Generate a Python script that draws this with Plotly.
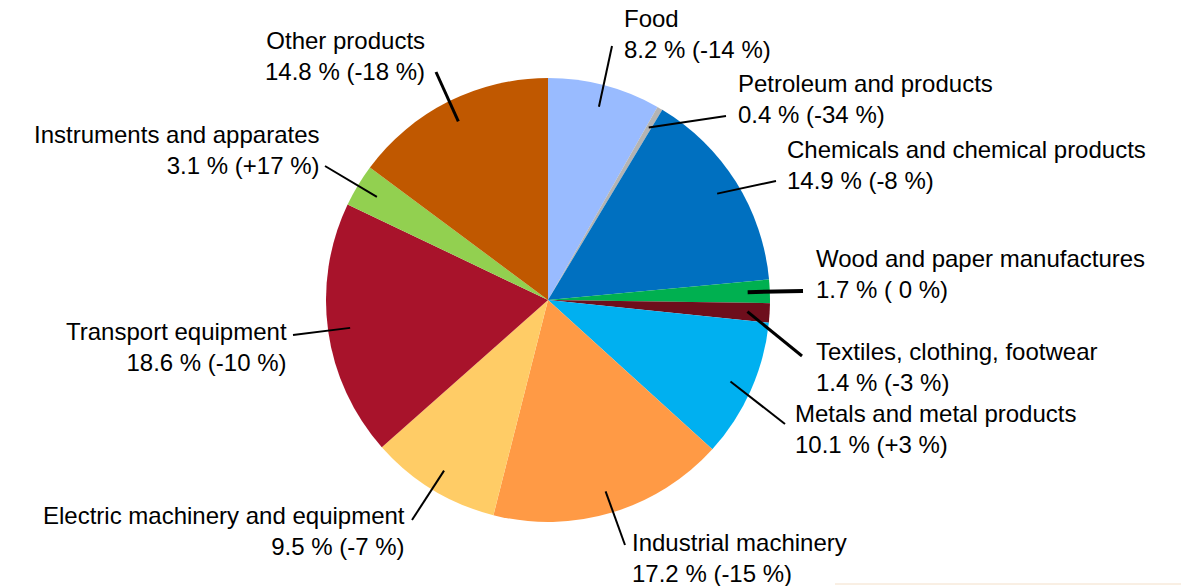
import math
import plotly.graph_objects as go

categories = ["Food", "Petroleum and products", "Chemicals and chemical products",
              "Wood and paper manufactures", "Textiles, clothing, footwear",
              "Metals and metal products", "Industrial machinery",
              "Electric machinery and equipment", "Transport equipment",
              "Instruments and apparates", "Other products"]
shares = [8.2, 0.4, 14.9, 1.7, 1.4, 10.1, 17.2, 9.5, 18.6, 3.1, 14.8]
changes = ["-14 %", "-34 %", "-8 %", " 0 %", "-3 %", "+3 %", "-15 %", "-7 %", "-10 %", "+17 %", "-18 %"]
colors = ["#99BBFF", "#B4B4B4", "#0070C0", "#00B050", "#6E0E1C", "#00B0F0",
          "#FF9A45", "#FFCC66", "#A8132B", "#92D050", "#C05800"]

W, H = 1181, 586
CX, CY, R = 548, 300, 222

# label layout: (line end x, line end y, text x, text y (center), xanchor, line width)
label_layout = [
    (612, 46, 622, 34, "left", 2),
    (726, 116, 736, 99, "left", 2),
    (776, 181, 785, 165, "left", 2),
    (803, 291, 814, 274, "left", 4),
    (802, 356, 814, 367, "left", 3),
    (785, 424, 793, 429, "left", 2),
    (625, 545, 630, 558, "left", 2),
    (412, 520, 407, 531, "right", 2),
    (293, 335, 289, 347, "right", 2),
    (325, 166, 322, 150, "right", 2),
    (436, 72, 427, 56, "right", 3),
]

fig = go.Figure()
fig.add_trace(go.Pie(
    values=shares, labels=categories, sort=False, direction="clockwise", rotation=0,
    marker=dict(colors=colors, line=dict(width=0)), textinfo="none", hoverinfo="label+percent",
    domain=dict(x=[(CX - R) / W, (CX + R) / W], y=[(H - CY - R) / H, (H - CY + R) / H]),
    showlegend=False,
))

total = sum(shares)
cum = 0.0
shapes = []
annotations = []
for cat, v, ch, lay in zip(categories, shares, changes, label_layout):
    mid = (cum + v / 2) / total * 2 * math.pi
    cum += v
    ix = CX + 0.9 * R * math.sin(mid)
    iy = CY - 0.9 * R * math.cos(mid)
    ex, ey, tx, ty, anc, lw = lay
    shapes.append(dict(type="line", xref="x", yref="y", x0=ix, y0=iy, x1=ex, y1=ey,
                       line=dict(color="black", width=lw)))
    annotations.append(dict(xref="x", yref="y", x=tx, y=ty, xanchor=anc, yanchor="middle",
                            text=f"{cat}<br>{v} % ({ch})", showarrow=False, align=anc,
                            font=dict(family="Liberation Sans, Arial", size=24, color="black")))

shapes.append(dict(type="line", xref="x", yref="y", x0=835, y0=584, x1=1181, y1=584,
                   line=dict(color="#F3DFC8", width=1)))

fig.update_layout(
    width=W, height=H, margin=dict(l=0, r=0, t=0, b=0),
    paper_bgcolor="white", plot_bgcolor="rgba(0,0,0,0)",
    xaxis=dict(range=[0, W], visible=False, fixedrange=True),
    yaxis=dict(range=[H, 0], visible=False, fixedrange=True),
    shapes=shapes, annotations=annotations,
)
fig.write_html("out.html", config={"displayModeBar": False},
               post_script="document.body.style.margin='0';document.body.style.overflow='hidden';")
